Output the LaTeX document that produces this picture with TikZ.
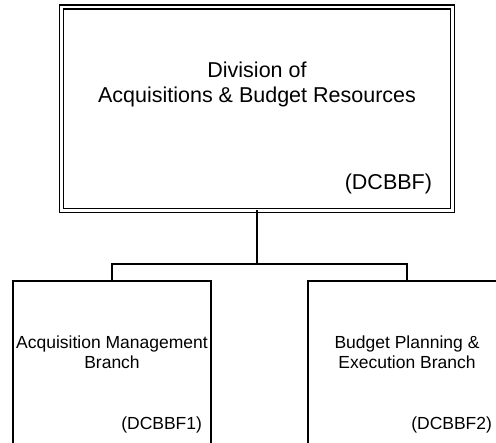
\documentclass[tikz,border=0pt]{standalone}
\usepackage{fontspec}
\setmainfont{Liberation Sans}
\usetikzlibrary{positioning}

\begin{document}
\begin{tikzpicture}[x=1pt, y=-1pt, line width=2pt,
    every node/.style = {align=center, inner sep=0pt, outer sep=0pt},
    unit/.style = {draw, line width=1.7pt, double, double distance=2.3pt,
                   minimum width=391pt, minimum height=203.5pt},
    branch/.style = {draw, minimum width=198pt, minimum height=190pt},
    title/.style = {font=\fontsize{21.5}{25}\selectfont},
    subtitle/.style = {font=\fontsize{17.5}{19.5}\selectfont},
    code/.style = {anchor=base east}]
    \useasboundingbox (0,0) rectangle (496,443);
    \clip (0,0) rectangle (496,443);
    % division
    \node[unit] (dcbbf) at (257,108.75) {};
    \node[title] (dcbbftitle) at (257,84.5) {Division of\\Acquisitions \& Budget Resources};
    \node[title, code] (dcbbfcode) at (432,190) {(DCBBF)};
    % branches
    \node[branch] (dcbbf1) at (112,376) {};
    \node[subtitle] (dcbbf1title) at (112,352) {Acquisition Management\\Branch};
    \node[subtitle, code] (dcbbf1code) at (202,430) {(DCBBF1)};
    \node[branch] (dcbbf2) at (407,376) {};
    \node[subtitle] (dcbbf2title) at (407,352) {Budget Planning \&\\Execution Branch};
    \node[subtitle, code] (dcbbf2code) at (492,430) {(DCBBF2)};
    % connectors
    \coordinate (bus) at (257,264);
    \draw (dcbbf.south) -- (bus);
    \draw (dcbbf1.north) |- (bus) -| (dcbbf2.north);
\end{tikzpicture}
\end{document}
